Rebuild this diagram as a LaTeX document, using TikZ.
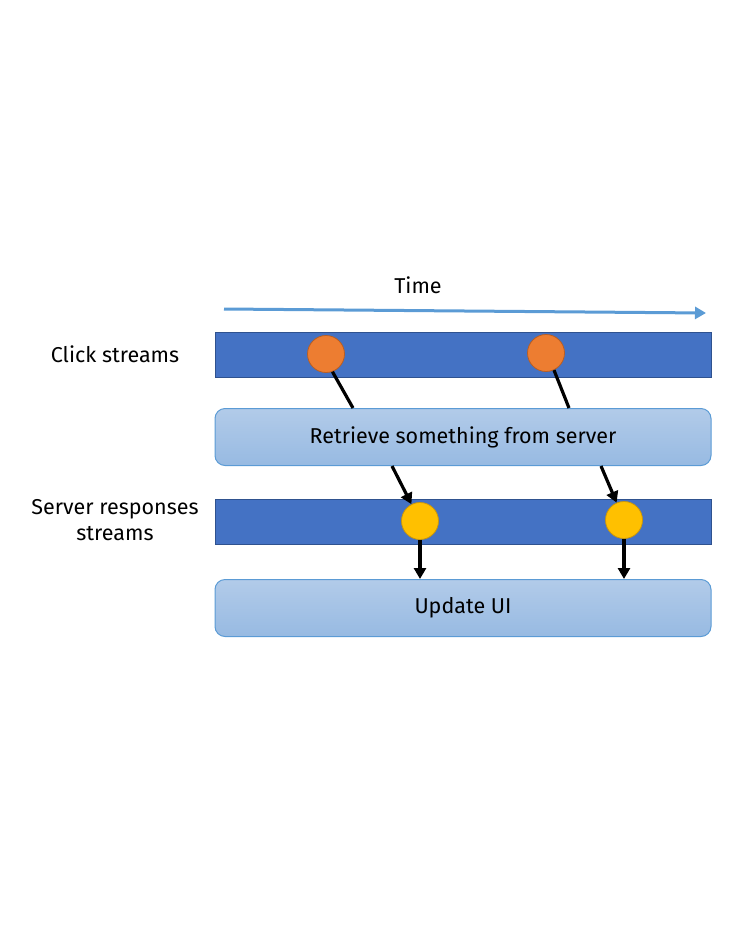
\documentclass[tikz,border=0pt]{standalone}
\usepackage{fontspec}
\setmainfont{Fira Sans}
\usepackage{tikz}
\usetikzlibrary{arrows.meta,positioning}
\definecolor{barblue}{HTML}{4472C4}
\definecolor{bardark}{HTML}{2F528F}
\definecolor{timeblue}{HTML}{5B9BD5}
\definecolor{boxtop}{HTML}{B2CBE9}
\definecolor{boxbot}{HTML}{97BAE2}
\definecolor{clickor}{HTML}{ED7D31}
\definecolor{clickdk}{HTML}{B85E24}
\definecolor{respyel}{HTML}{FFC000}
\definecolor{respdk}{HTML}{C9960C}
\tikzstyle{bar}=[rectangle, fill=barblue, draw=bardark, line width=0.6pt, minimum width=496pt, minimum height=45pt, inner sep=0pt]
\tikzstyle{step box}=[rectangle, rounded corners=10pt, top color=boxtop, bottom color=boxbot, draw=timeblue, line width=1pt, minimum width=496pt, minimum height=57pt, inner sep=0pt]
\tikzstyle{click}=[circle, fill=clickor, draw=clickdk, line width=0.8pt, minimum size=37pt, inner sep=0pt]
\tikzstyle{resp}=[circle, fill=respyel, draw=respdk, line width=0.8pt, minimum size=37pt, inner sep=0pt]
\tikzstyle{lbl}=[font=\fontsize{21.5}{26}\selectfont, align=center, inner sep=0pt]
\tikzstyle{link}=[line width=3.2pt, black]

\begin{document}
\begin{tikzpicture}
[x=1pt, y=-1pt, >={Triangle[length=11pt,width=12pt]}]
 \useasboundingbox (0,0) rectangle (742,935);
 % time axis
 \node[lbl] (time) at (418,285) {Time};
 \coordinate (t0) at (224,309);
 \coordinate (t1) at (706,313);
 \draw[timeblue, line width=3pt, ->] (t0) -- (t1);
 % streams and steps
 \node[bar] (clicks) at (463,354.5) {};
 \node[step box] (retrieve) at (463,437) {};
 \node[lbl] at (retrieve) {Retrieve something from server};
 \node[bar] (server) at (463,522) {};
 \node[step box] (update) at (463,608) {};
 \node[lbl] at (update) {Update UI};
 \node[lbl] (clickl) at (115,354) {Click streams};
 \node[lbl] (serverl) at (115,520) {Server responses\\streams};
 % events
 \node[click] (c1) at (326,354) {};
 \node[click] (c2) at (546,353) {};
 \node[resp] (r1) at (420,521) {};
 \node[resp] (r2) at (624,520) {};
 \coordinate (in1) at (353,408);
 \coordinate (in2) at (569,408);
 \coordinate (out1) at (392,466);
 \coordinate (out2) at (601,466);
 \path[link]
   (c1.290) edge (in1)
   (c2.295) edge (in2)
   (out1) edge[->] (r1)
   (out2) edge[->] (r2)
   (r1) edge[->] (r1 |- update.north)
   (r2) edge[->] (r2 |- update.north);
\end{tikzpicture}
\end{document}
